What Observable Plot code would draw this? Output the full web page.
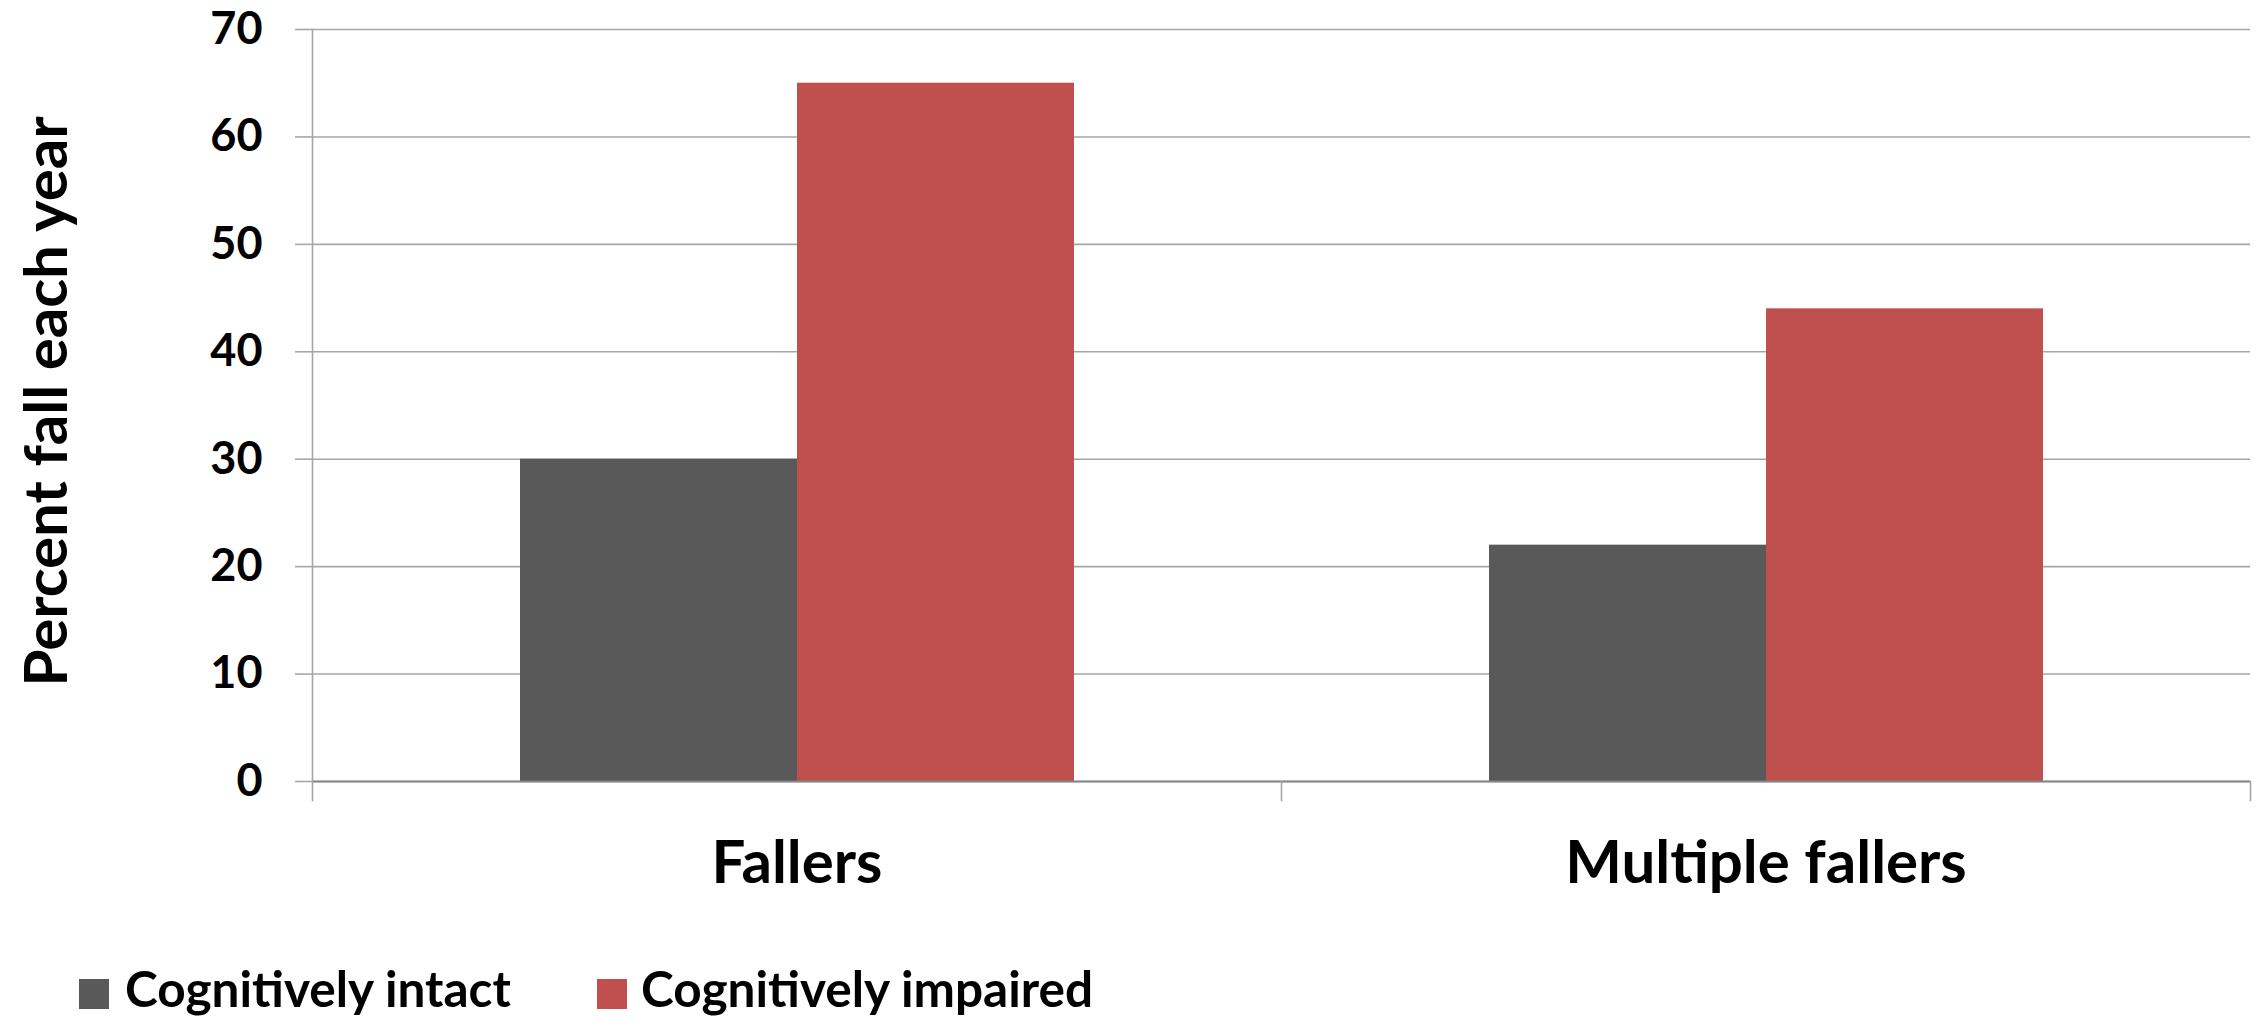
<!DOCTYPE html>
<html>
<head>
<meta charset="utf-8">
<script src="https://cdn.jsdelivr.net/npm/d3@7"></script>
<script src="https://cdn.jsdelivr.net/npm/@observablehq/plot@0.6"></script>
<style>
  html, body { margin: 0; padding: 0; background: #fff; }
  body { width: 2257px; height: 1018px; overflow: hidden; font-family: Lato, "Open Sans", sans-serif; }
  #legend { position: relative; height: 63px; font-weight: bold; font-size: 49.5px; color: #000; }
  .sw { position: absolute; top: 24px; width: 30px; height: 30px; }
  .lab { position: absolute; top: 5px; line-height: 56px; white-space: nowrap; }
</style>
</head>
<body>
<div id="chart"></div>
<div id="legend"></div>
<script>
const categories = ["Fallers", "Multiple fallers"];
const series = ["Cognitively intact", "Cognitively impaired"];
const intactValues = [30, 22];
const impairedValues = [65, 44];
const seriesColors = ["#595959", "#c0504d"];
const yTicks = [0, 10, 20, 30, 40, 50, 60, 70];
const yLabel = "Percent fall each year";

const data = categories.flatMap((c, i) => [
  {category: c, series: series[0], value: intactValues[i]},
  {category: c, series: series[1], value: impairedValues[i]}
]);

const chart = Plot.plot({
  width: 2257,
  height: 955,
  marginTop: 29,
  marginBottom: 174,
  marginLeft: 312,
  marginRight: 7,
  style: {fontFamily: "Lato, 'Open Sans', sans-serif", fontWeight: "bold", color: "#000", background: "#fff"},
  fx: {domain: categories, padding: 0, axis: null},
  x: {domain: series, paddingInner: 0, paddingOuter: 0.749, axis: null},
  y: {domain: [0, 70], axis: null},
  color: {domain: series, range: seriesColors},
  marks: [
    Plot.gridY(yTicks, {stroke: "#a6a6a6", strokeOpacity: 1, strokeWidth: 1.6}),
    Plot.barY(data, {fx: "category", x: "series", y: "value", fill: "series"}),
    Plot.ruleY([0], {stroke: "#868686", strokeWidth: 2}),
    Plot.frame({anchor: "left", stroke: "#a6a6a6", strokeWidth: 1.6, insetBottom: -19, facetAnchor: "left"}),
    Plot.frame({anchor: "right", stroke: "#a6a6a6", strokeWidth: 1.6, insetTop: 752, insetBottom: -19}),
    Plot.axisY(yTicks, {tickSize: 17, tickPadding: 33, fontSize: 45, stroke: "#a6a6a6", strokeWidth: 1.6, fill: "#000", label: null}),
    Plot.axisFx({anchor: "bottom", tickSize: 0, tickPadding: 59, fontSize: 60, fill: "#000", label: null}),
    Plot.text([{fx: categories[0], t: yLabel}], {fx: "fx", text: "t", frameAnchor: "left", textAnchor: "middle", dx: -265, dy: -4, rotate: -90, fontSize: 60, fontWeight: "bold", fill: "#000"})
  ]
});
document.getElementById("chart").append(chart);

const legend = document.getElementById("legend");
const swatchX = [79, 597];
const labelX = [125, 641];
series.forEach((s, i) => {
  const sw = document.createElement("div");
  sw.className = "sw";
  sw.style.left = swatchX[i] + "px";
  sw.style.background = seriesColors[i];
  legend.append(sw);
  const lb = document.createElement("div");
  lb.className = "lab";
  lb.style.left = labelX[i] + "px";
  lb.textContent = s;
  legend.append(lb);
});
</script>
</body>
</html>
